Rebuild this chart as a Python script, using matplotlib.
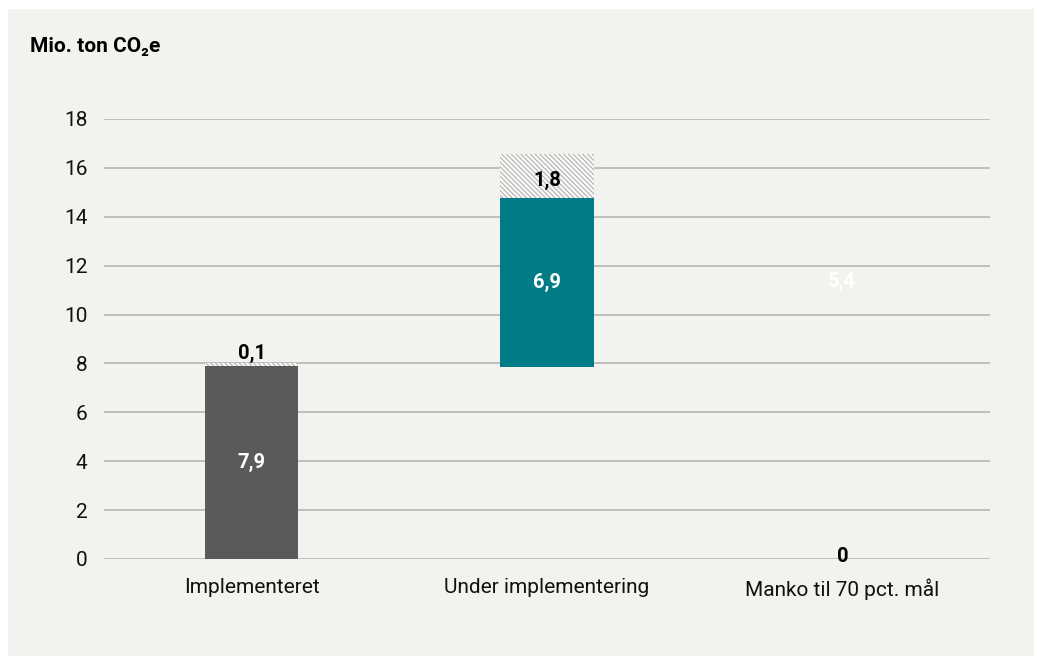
import matplotlib
matplotlib.use("Agg")
import matplotlib.pyplot as plt
from matplotlib.patches import Rectangle

plt.rcParams['font.family'] = ['Roboto', 'DejaVu Sans']
plt.rcParams['hatch.color'] = '#aaaaaa'
plt.rcParams['hatch.linewidth'] = 0.7

categories = ["Implementeret", "Under implementering", "Manko til 70 pct. mål"]
main_values = [7.9, 6.9, 5.4]
main_bases = [0.0, 7.87, 8.7]
hatch_values = [0.1, 1.8, 0.0]
main_labels = ["7,9", "6,9", "5,4"]
hatch_labels = ["0,1", "1,8", "0"]
yticks = [0, 2, 4, 6, 8, 10, 12, 14, 16, 18]

BG = '#f2f2ee'
fig = plt.figure(figsize=(10.37, 6.56), dpi=100)
fig.patch.set_facecolor('white')
fig.add_artist(Rectangle((8/1037, 0), 1026/1037, 647/656, transform=fig.transFigure,
                         facecolor=BG, edgecolor='none', zorder=-10))

ax = fig.add_axes([104/1037, (656-559)/656, (990-104)/1037, (559-119)/656])
ax.set_facecolor('none')
ax.set_xlim(-0.5, 2.5)
ax.set_ylim(0, 18)

x = list(range(len(categories)))
w = 0.315
colors = ['#5a5a5a', '#017b86', 'none']

for i in x:
    if colors[i] != 'none':
        ax.bar(i, main_values[i], bottom=main_bases[i], width=w, color=colors[i], zorder=3)
    top = main_bases[i] + main_values[i]
    if hatch_values[i] > 0:
        ax.bar(i, hatch_values[i], bottom=top, width=w, facecolor='#f8f8f6',
               edgecolor='#aaaaaa', linewidth=0, hatch='\\\\\\\\\\\\\\', zorder=3)

lab_kw = dict(ha='center', fontsize=14.5, fontweight='bold', zorder=5)
ax.text(0, main_bases[0] + main_values[0] / 2, main_labels[0], va='center', color='white', **lab_kw)
ax.text(1, main_bases[1] + main_values[1] / 2, main_labels[1], va='center', color='white', **lab_kw)
ax.text(2, 11.35, main_labels[2], va='center', color='white', **lab_kw)
ax.text(0, 8.0, hatch_labels[0], va='bottom', color='black', **lab_kw)
ax.text(1, 15.5, hatch_labels[1], va='center', color='black', **lab_kw)
ax.text(2, 0.1, hatch_labels[2], va='center', color='black', **lab_kw)

ax.set_yticks(yticks)
ax.set_yticklabels([str(v) for v in yticks])
ax.set_xticks(x)
ax.set_xticklabels(categories)
ax.tick_params(axis='y', length=0, pad=12, labelsize=15, labelcolor='#111111')
ax.tick_params(axis='x', length=0, pad=14, labelsize=15, labelcolor='#111111')
ax.grid(axis='y', color='#b5b5b5', linewidth=1.2, zorder=0)
ax.set_axisbelow(True)
for s in ax.spines.values():
    s.set_visible(False)

fig.text(30/1037, 1 - 47/656, "Mio. ton CO₂e", ha='left', va='center',
         fontsize=15, fontweight='bold', color='black')

fig.savefig("out.png", dpi=100, facecolor=fig.get_facecolor())
